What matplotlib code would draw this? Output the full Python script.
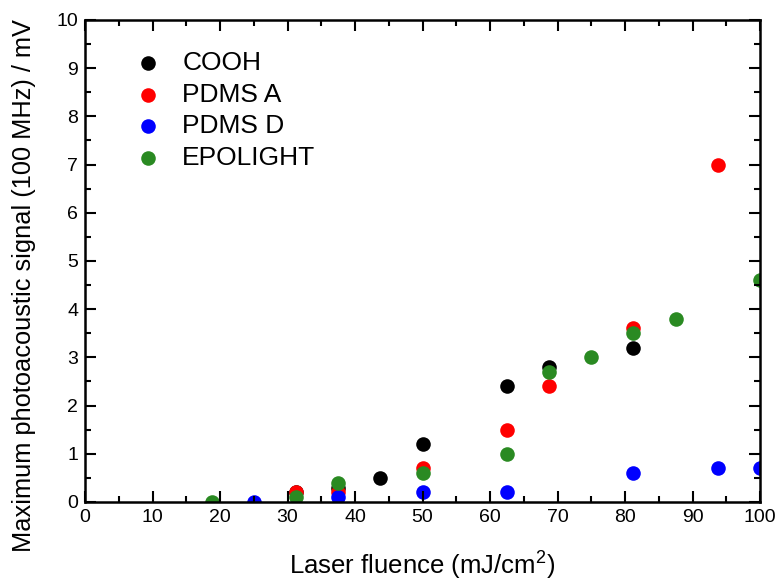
import matplotlib
matplotlib.use('Agg')
import matplotlib.pyplot as plt
from matplotlib.ticker import MultipleLocator

plt.rcParams['font.family'] = ['Liberation Sans', 'DejaVu Sans']
plt.rcParams['mathtext.fontset'] = 'custom'
plt.rcParams['mathtext.rm'] = 'Liberation Sans'

# fluence (mJ/cm2) and maximum signal (mV)
cooh_x = [31.25, 37.5, 43.75, 50, 62.5, 68.75, 81.25]
cooh_y = [0.2, 0.3, 0.5, 1.2, 2.4, 2.8, 3.2]

pdmsa_x = [31.25, 37.5, 50, 62.5, 68.75, 81.25, 93.75]
pdmsa_y = [0.2, 0.2, 0.7, 1.5, 2.4, 3.6, 7.0]

pdmsd_x = [25, 37.5, 50, 62.5, 81.25, 93.75, 100]
pdmsd_y = [0.0, 0.1, 0.2, 0.2, 0.6, 0.7, 0.7]

epo_x = [18.75, 31.25, 37.5, 50, 62.5, 68.75, 75, 81.25, 87.5, 100]
epo_y = [0.0, 0.1, 0.4, 0.6, 1.0, 2.7, 3.0, 3.5, 3.8, 4.6]

fig = plt.figure(figsize=(7.78, 5.81), dpi=100)
ax = fig.add_axes([0.1093, 0.136, 0.8676, 0.8296])

ms = 110
ax.scatter(cooh_x, cooh_y, s=ms, color='black', label='COOH', linewidths=0)
ax.scatter(pdmsa_x, pdmsa_y, s=ms, color='#ff0000', label='PDMS A', linewidths=0)
ax.scatter(pdmsd_x, pdmsd_y, s=ms, color='#0000ff', label='PDMS D', linewidths=0)
ax.scatter(epo_x, epo_y, s=ms, color='#2a8a22', label='EPOLIGHT', linewidths=0)

ax.set_xlim(0, 100)
ax.set_ylim(0, 10)
ax.xaxis.set_major_locator(MultipleLocator(10))
ax.xaxis.set_minor_locator(MultipleLocator(5))
ax.yaxis.set_major_locator(MultipleLocator(1))
ax.yaxis.set_minor_locator(MultipleLocator(0.5))
ax.tick_params(which='both', direction='in', top=True, right=True, width=1.5, labelsize=14)
ax.tick_params(which='major', length=8, pad=5)
ax.tick_params(which='minor', length=4.5)
for sp in ax.spines.values():
    sp.set_linewidth(1.8)

ax.set_xlabel('Laser fluence (mJ/cm$^{2}$)', fontsize=18.5)
ax.set_ylabel('Maximum photoacoustic signal (100 MHz) / mV', fontsize=18.3)
ax.xaxis.set_label_coords(0.5, -0.095)
ax.yaxis.set_label_coords(-0.072, 0.448)

ax.legend(loc='upper left', frameon=False, fontsize=19, bbox_to_anchor=(0.019, 0.985),
          handletextpad=0.3, labelspacing=0.29, scatterpoints=1)

fig.savefig('out.png', dpi=100)
